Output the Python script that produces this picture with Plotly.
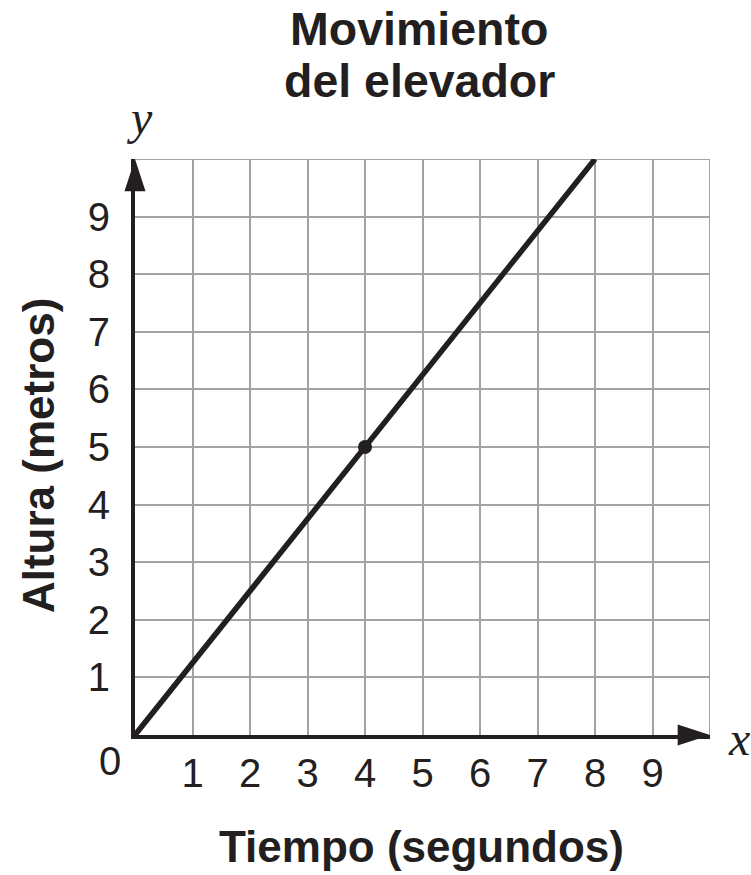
import plotly.graph_objects as go

# ---- data ----
time_s = [0, 8]            # Tiempo (segundos)
height_m = [0, 10]         # Altura (metros)
point_x = [4]
point_y = [5]
x_ticks = [1, 2, 3, 4, 5, 6, 7, 8, 9]
y_ticks = [1, 2, 3, 4, 5, 6, 7, 8, 9]
x_ticktext = ["1", "2", "3", "4", "5", "6", "7", "8", "9"]
y_ticktext = ["1", "2", "3", "4", "5", "6", "7", "8", "9"]
axis_max = 10

INK = "#231f20"
GRID = "#a3a3a3"
SANS = "Liberation Sans, Arial, Helvetica, sans-serif"
SERIF = "Liberation Serif, Times New Roman, serif"

fig = go.Figure()

# top / right border grid lines
fig.add_shape(type="line", xref="x", yref="y", x0=0, x1=axis_max, y0=axis_max, y1=axis_max,
              line=dict(color=GRID, width=2), layer="below")
fig.add_shape(type="line", xref="x", yref="y", x0=axis_max, x1=axis_max, y0=0, y1=axis_max,
              line=dict(color=GRID, width=2), layer="below")

# data line
fig.add_trace(go.Scatter(x=time_s, y=height_m, mode="lines",
                         line=dict(color=INK, width=5.5), cliponaxis=False,
                         hoverinfo="skip", showlegend=False))
# marked point
fig.add_trace(go.Scatter(x=point_x, y=point_y, mode="markers",
                         marker=dict(color=INK, size=14), cliponaxis=False,
                         showlegend=False))
# axis arrow heads
fig.add_trace(go.Scatter(x=[axis_max, 0], y=[0, axis_max], mode="markers",
                         marker=dict(symbol="arrow", angle=[90, 0], size=34, color=INK,
                                     line=dict(width=0)),
                         cliponaxis=False, hoverinfo="skip", showlegend=False))

fig.update_xaxes(range=[0, axis_max], tickvals=x_ticks, ticktext=x_ticktext,
                 showgrid=True, gridcolor=GRID, gridwidth=2, zeroline=False,
                 showline=True, linecolor=INK, linewidth=4, ticks="",
                 ticklabelstandoff=0,
                 tickfont=dict(family=SANS, size=40, color=INK), fixedrange=True)
fig.update_yaxes(range=[0, axis_max], tickvals=y_ticks, ticktext=y_ticktext,
                 showgrid=True, gridcolor=GRID, gridwidth=2, zeroline=False,
                 showline=True, linecolor=INK, linewidth=4, ticks="",
                 ticklabelstandoff=13,
                 tickfont=dict(family=SANS, size=40, color=INK), fixedrange=True)

P = dict(xref="paper", yref="paper", showarrow=False)
ann = [
    dict(text="Movimiento", x=0.494, y=1.2257, xanchor="center", yanchor="middle",
         font=dict(family=SANS, size=46.5, color=INK, weight="bold"), **P),
    dict(text="del elevador", x=0.494, y=1.135, xanchor="center", yanchor="middle",
         font=dict(family=SANS, size=46.5, color=INK, weight="bold"), **P),
    dict(text="Altura (metros)", x=-0.1687, y=0.486, xanchor="center", yanchor="middle",
         textangle=-90, font=dict(family=SANS, size=44, color=INK, weight="bold"), **P),
    dict(text="Tiempo (segundos)", x=0.499, y=-0.194, xanchor="center", yanchor="middle",
         font=dict(family=SANS, size=44, color=INK, weight="bold"), **P),
    dict(text="0", x=-0.0435, y=-0.046, xanchor="center", yanchor="middle",
         font=dict(family=SANS, size=40, color=INK), **P),
    dict(text="<i>y</i>", x=0.007, y=1.072, xanchor="center", yanchor="middle",
         font=dict(family=SERIF, size=48, color=INK), **P),
    dict(text="<i>x</i>", x=1.05, y=-0.006, xanchor="center", yanchor="middle",
         font=dict(family=SERIF, size=48, color=INK), **P),
]

fig.update_layout(width=751, height=875,
                  margin=dict(l=135, r=41, t=159, b=140),
                  paper_bgcolor="white", plot_bgcolor="white",
                  annotations=ann, showlegend=False)

fig.write_html("out.html",
               config={"displayModeBar": False, "staticPlot": True},
               post_script="document.body.style.margin='0';document.body.style.overflow='hidden';")
